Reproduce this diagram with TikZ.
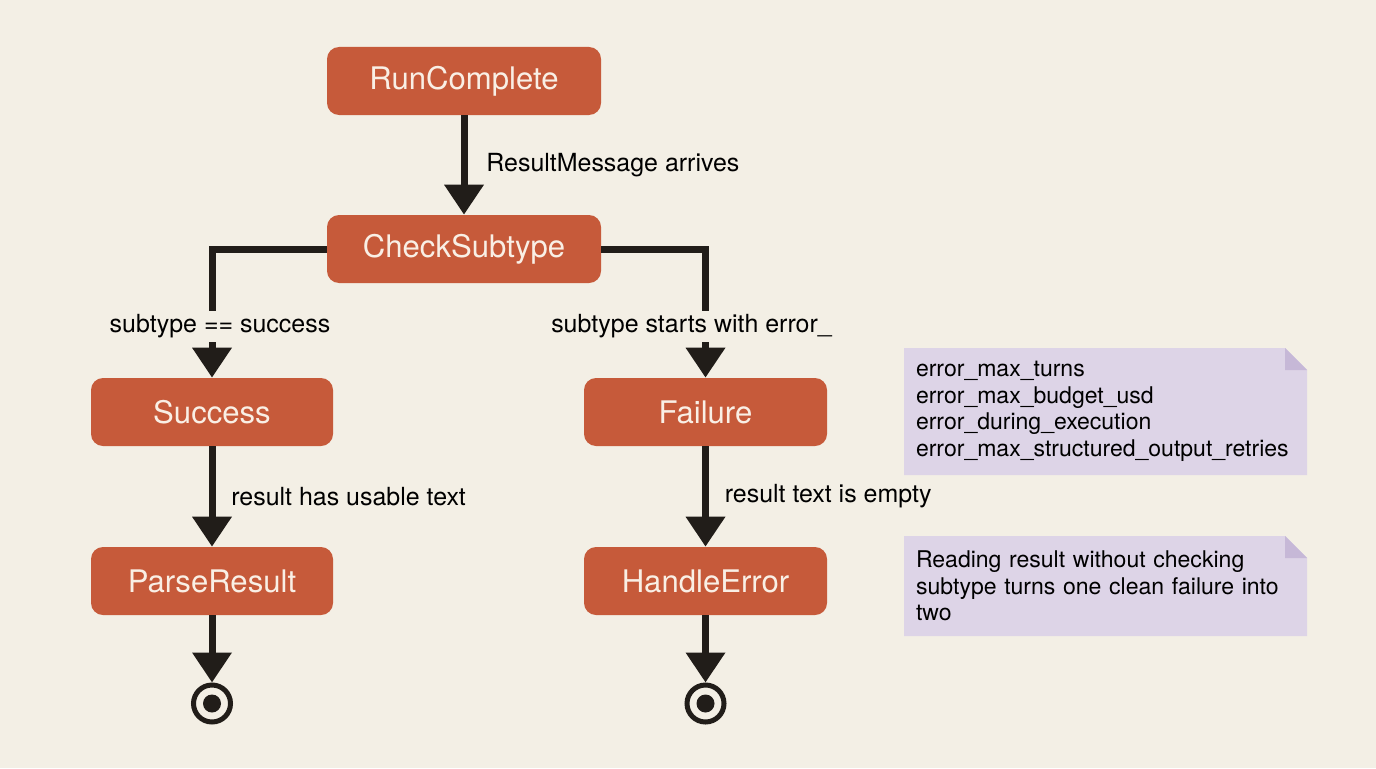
\documentclass[tikz,border=0pt]{standalone}
\usepackage{fontspec}
\setmainfont{TeX Gyre Heros}
\usepackage{tikz}
\usetikzlibrary{positioning,arrows.meta}
\definecolor{paper}{HTML}{F3EFE5}
\definecolor{rust}{HTML}{C65A3A}
\definecolor{cream}{HTML}{F9EFE5}
\definecolor{ink}{HTML}{211D19}
\definecolor{lilac}{HTML}{DDD4E7}
\definecolor{lilacfold}{HTML}{C6B8D7}
\pgfdeclarelayer{back}
\pgfsetlayers{back,main}
\tikzset{
  state/.style={rectangle, rounded corners=0.24cm, fill=rust, text=cream, minimum width=5.48cm, minimum height=1.36cm, font=\fontsize{17.7}{21}\selectfont},
  arrow/.style={-{Triangle[width=0.76cm,length=0.6cm]}, line width=0.14cm, draw=ink},
  guard/.style={fill=paper, inner sep=2pt, font=\fontsize{14.2}{17}\selectfont},
  trans/.style={font=\fontsize{14.2}{17}\selectfont},
  final/.style={circle, draw=ink, line width=0.1cm, minimum size=0.74cm, inner sep=0pt,
    path picture={\fill[ink] (path picture bounding box.center) circle (0.18cm);}},
  note/.style={align=left, text width=7.58cm, inner xsep=0.24cm, outer sep=0pt, font=\fontsize{13.1}{15.1}\selectfont}
}
% note paper with folded corner, behind the text
\newcommand{\dogear}[1]{%
  \begin{pgfonlayer}{back}
    \fill[lilac] (#1.south west) -- (#1.north west) -- ([xshift=-0.44cm]#1.north east)
      -- ([yshift=-0.44cm]#1.north east) -- (#1.south east) -- cycle;
    \fill[lilacfold] ([xshift=-0.44cm]#1.north east) -- ([xshift=-0.44cm,yshift=-0.44cm]#1.north east)
      -- ([yshift=-0.44cm]#1.north east) -- cycle;
  \end{pgfonlayer}}
\begin{document}
\begin{tikzpicture}
  \begin{pgfonlayer}{back}
    \fill[paper] (0,0) rectangle (27.52,-15.36);
  \end{pgfonlayer}
  \useasboundingbox (0,0) rectangle (27.52,-15.36);

  \node[state] (run) at (9.28,-1.62) {RunComplete};
  \node[state] (check) at (9.28,-4.98) {CheckSubtype};
  \node[state, minimum width=4.84cm] (success) at (4.24,-8.24) {Success};
  \node[state, minimum width=4.86cm] (failure) at (14.11,-8.24) {Failure};
  \node[state, minimum width=4.84cm] (parse) at (4.24,-11.62) {ParseResult};
  \node[state, minimum width=4.86cm] (handle) at (14.11,-11.62) {HandleError};

  \node[final] (doneA) at (4.24,-14.07) {};
  \node[final] (doneB) at (14.11,-14.07) {};

  \draw[arrow] (run) -- node[trans, right=0.26cm] {ResultMessage arrives} (check);
  \draw[arrow] (check.west) -| node[guard, pos=0.8, xshift=0.16cm] {subtype == success} (success.north);
  \draw[arrow] (check.east) -| node[guard, pos=0.8, xshift=-0.28cm] {subtype starts with error\_} (failure.north);
  \draw[arrow] (success) -- node[trans, right=0.2cm] {result has usable text} (parse);
  \draw[arrow] (failure) -- node[trans, right=0.2cm] {result text is empty} (handle);
  \draw[arrow] (parse) -- (doneA);
  \draw[arrow] (handle) -- (doneB);

  \node[note, minimum height=2.54cm] (codes) at (22.11,-8.23)
    {error\_max\_turns\\ error\_max\_budget\_usd\\ error\_during\_execution\\ error\_max\_structured\_output\_retries};
  \node[note, minimum height=2.0cm] (warn) at (22.11,-11.72)
    {Reading result without checking\\ subtype turns one clean failure into\\ two};
  \dogear{codes}
  \dogear{warn}
\end{tikzpicture}
\end{document}
